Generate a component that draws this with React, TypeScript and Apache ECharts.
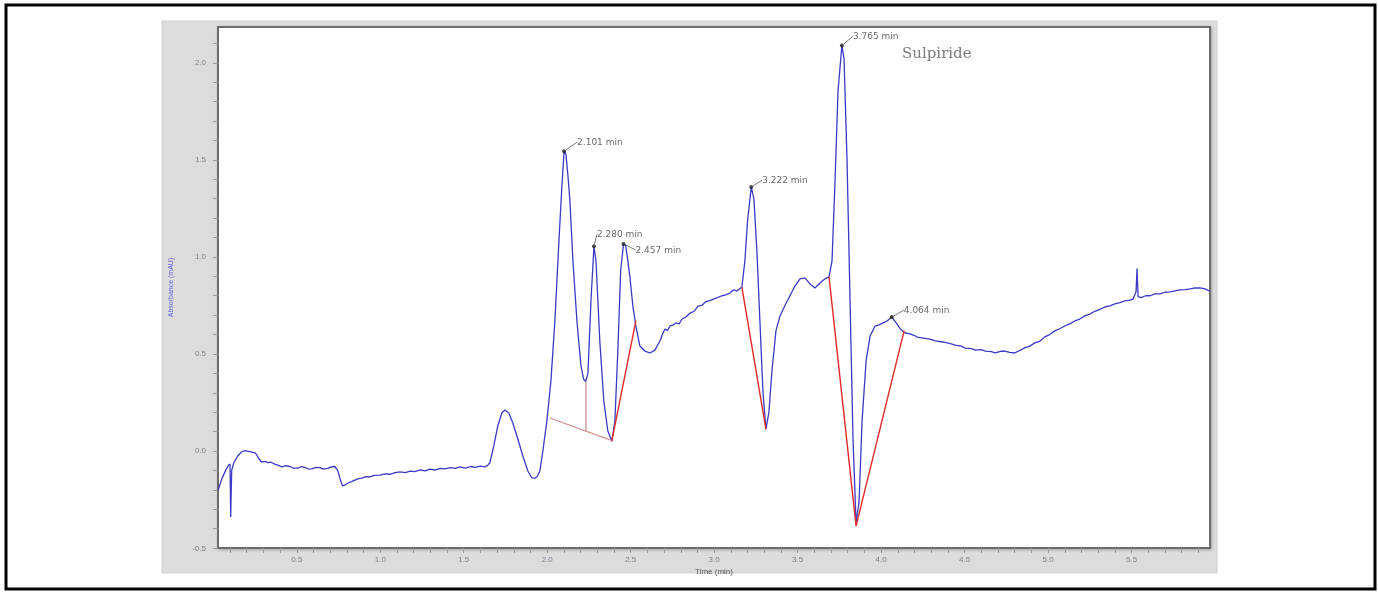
import React, { useEffect, useRef } from "react";
import * as echarts from "echarts";

// Chromatogram trace (time in min, absorbance in mAU)
const timeMin = [
  0.028, 0.05, 0.074, 0.092, 0.1, 0.104, 0.11, 0.122, 0.146, 0.17, 0.19, 0.21, 0.23, 0.25, 0.26, 0.273,
  0.29, 0.31, 0.326, 0.345, 0.368, 0.39, 0.41, 0.435, 0.458, 0.48, 0.506, 0.528, 0.548, 0.57, 0.59,
  0.615, 0.638, 0.66, 0.686, 0.705, 0.728, 0.745, 0.763, 0.775, 0.79, 0.806, 0.828, 0.848, 0.87, 0.89,
  0.915, 0.937, 0.965, 0.997, 1.03, 1.057, 1.09, 1.117, 1.15, 1.18, 1.207, 1.24, 1.27, 1.297, 1.33,
  1.36, 1.387, 1.42, 1.45, 1.477, 1.51, 1.54, 1.567, 1.6, 1.627, 1.645, 1.656, 1.68, 1.704, 1.728,
  1.746, 1.77, 1.794, 1.824, 1.854, 1.884, 1.908, 1.925, 1.938, 1.956, 1.974, 1.998, 2.022, 2.046,
  2.07, 2.088, 2.101, 2.112, 2.124, 2.136, 2.154, 2.178, 2.202, 2.218, 2.23, 2.244, 2.262, 2.28,
  2.292, 2.302, 2.315, 2.339, 2.363, 2.387, 2.405, 2.423, 2.44, 2.457, 2.47, 2.483, 2.495, 2.513,
  2.531, 2.555, 2.585, 2.615, 2.645, 2.675, 2.69, 2.705, 2.72, 2.735, 2.755, 2.771, 2.79, 2.807,
  2.83, 2.855, 2.88, 2.903, 2.925, 2.951, 2.975, 2.999, 3.02, 3.047, 3.07, 3.094, 3.115, 3.136,
  3.166, 3.184, 3.2, 3.222, 3.238, 3.256, 3.274, 3.292, 3.31, 3.328, 3.346, 3.37, 3.394, 3.424,
  3.454, 3.484, 3.514, 3.544, 3.574, 3.604, 3.634, 3.664, 3.688, 3.706, 3.724, 3.742, 3.765, 3.778,
  3.796, 3.814, 3.832, 3.85, 3.868, 3.886, 3.91, 3.934, 3.964, 3.988, 4.012, 4.036, 4.064, 4.09,
  4.114, 4.144, 4.174, 4.2, 4.222, 4.264, 4.3, 4.324, 4.36, 4.384, 4.42, 4.444, 4.48, 4.504, 4.54,
  4.564, 4.6, 4.624, 4.66, 4.684, 4.72, 4.74, 4.77, 4.8, 4.83, 4.86, 4.89, 4.92, 4.95, 4.98, 5.01,
  5.04, 5.07, 5.1, 5.13, 5.16, 5.19, 5.22, 5.25, 5.28, 5.31, 5.34, 5.37, 5.4, 5.43, 5.46, 5.49,
  5.509, 5.527, 5.533, 5.539, 5.557, 5.585, 5.611, 5.64, 5.671, 5.7, 5.731, 5.76, 5.791, 5.82,
  5.851, 5.88, 5.91, 5.94, 5.965,
];

const absorbance = [
  -0.205, -0.145, -0.1, -0.072, -0.068, -0.34, -0.1, -0.062, -0.026, -0.004, 0.002, -0.002, -0.006,
  -0.01, -0.02, -0.04, -0.058, -0.054, -0.06, -0.058, -0.068, -0.074, -0.082, -0.076, -0.08, -0.088,
  -0.088, -0.08, -0.085, -0.093, -0.092, -0.084, -0.086, -0.094, -0.09, -0.082, -0.08, -0.1, -0.155,
  -0.18, -0.175, -0.165, -0.158, -0.15, -0.142, -0.14, -0.132, -0.134, -0.126, -0.124, -0.118, -0.12,
  -0.112, -0.108, -0.112, -0.104, -0.106, -0.098, -0.102, -0.094, -0.098, -0.09, -0.092, -0.086,
  -0.09, -0.082, -0.088, -0.08, -0.084, -0.078, -0.082, -0.072, -0.062, 0.026, 0.129, 0.196, 0.211,
  0.196, 0.144, 0.062, -0.026, -0.103, -0.139, -0.14, -0.134, -0.103, 0.0, 0.155, 0.36, 0.67, 1.08,
  1.366, 1.545, 1.53, 1.42, 1.289, 0.979, 0.67, 0.438, 0.37, 0.358, 0.4, 0.773, 1.055, 0.98, 0.8,
  0.567, 0.258, 0.103, 0.05, 0.15, 0.515, 0.93, 1.067, 1.06, 0.98, 0.9, 0.747, 0.644, 0.541, 0.515,
  0.505, 0.52, 0.567, 0.6, 0.629, 0.62, 0.644, 0.65, 0.66, 0.655, 0.68, 0.69, 0.71, 0.72, 0.747, 0.75,
  0.77, 0.775, 0.784, 0.79, 0.8, 0.805, 0.814, 0.83, 0.825, 0.845, 0.98, 1.186, 1.36, 1.3, 1.03, 0.67,
  0.309, 0.113, 0.2, 0.412, 0.619, 0.696, 0.75, 0.8, 0.85, 0.887, 0.892, 0.861, 0.84, 0.866, 0.887,
  0.897, 0.98, 1.392, 1.856, 2.09, 2.02, 1.495, 0.773, 0.052, -0.37, -0.26, 0.155, 0.464, 0.593,
  0.644, 0.65, 0.66, 0.67, 0.69, 0.66, 0.63, 0.608, 0.603, 0.595, 0.585, 0.58, 0.575, 0.567, 0.563,
  0.56, 0.552, 0.546, 0.54, 0.53, 0.528, 0.52, 0.522, 0.515, 0.512, 0.505, 0.514, 0.515, 0.508,
  0.505, 0.518, 0.531, 0.54, 0.557, 0.565, 0.588, 0.6, 0.619, 0.63, 0.644, 0.655, 0.67, 0.68, 0.696,
  0.705, 0.72, 0.73, 0.742, 0.748, 0.758, 0.765, 0.773, 0.778, 0.783, 0.82, 0.94, 0.795, 0.79, 0.8,
  0.8, 0.81, 0.81, 0.818, 0.82, 0.825, 0.83, 0.832, 0.835, 0.84, 0.84, 0.835, 0.825,
];

// Integrated peaks
const peakTimes = [2.101, 2.28, 2.457, 3.222, 3.765, 4.064];
const peakHeights = [1.545, 1.055, 1.067, 1.36, 2.09, 0.69];

// Integration baselines (drop lines)
const baselineLight = [
  [2.016, 0.17],
  [2.393, 0.052],
];
const dropLine = [
  [2.232, 0.36],
  [2.232, 0.098],
];
const baselineRed = [
  [[2.387, 0.052], [2.531, 0.67]],
  [[3.166, 0.845], [3.31, 0.113]],
  [[3.688, 0.897], [3.85, -0.387]],
  [[3.85, -0.387], [4.138, 0.62]],
];

const xTickLabels = [0.5, 1.0, 1.5, 2.0, 2.5, 3.0, 3.5, 4.0, 4.5, 5.0, 5.5];
const yTickLabels = [-0.5, 0.0, 0.5, 1.0, 1.5, 2.0];
const xMinorTicks = Array.from({ length: 59 }, (_, i) => (i + 1) / 10);
const yMinorTicks = Array.from({ length: 27 }, (_, i) => (i - 5) / 10);

const peakLabelShift = [
  [9, -9],
  [-1, -12],
  [8, 6],
  [7, -7],
  [7, -9],
  [8, -7],
];

export default function App() {
  const ref = useRef<HTMLDivElement>(null);

  useEffect(() => {
    if (!ref.current) return;
    const chart = echarts.init(ref.current, undefined, { renderer: "svg" });

    const redSeries = baselineRed.map((seg, i) => ({
      type: "line",
      name: "baseline" + i,
      data: seg,
      showSymbol: false,
      silent: true,
      lineStyle: { color: "#e12a2a", width: 1.4 },
      z: 4,
    }));

    const option: any = {
      animation: false,
      backgroundColor: "transparent",
      grid: {
        left: 218,
        top: 27,
        right: 168,
        bottom: 44,
        show: true,
        backgroundColor: "#ffffff",
        borderColor: "#6c6c6c",
        borderWidth: 2,
        shadowColor: "rgba(0,0,0,0.25)",
        shadowBlur: 3,
        shadowOffsetX: 1,
        shadowOffsetY: 1,
      },
      xAxis: {
        type: "value",
        min: 0.028,
        max: 5.97,
        name: "Time (min)",
        nameLocation: "middle",
        nameGap: 18,
        nameTextStyle: { color: "#555", fontSize: 8, fontFamily: "Liberation Sans" },
        axisLine: { show: false, onZero: false },
        splitLine: { show: false },
        axisTick: {
          show: true,
          length: 5,
          customValues: xMinorTicks,
          lineStyle: { color: "#9a9a9a", width: 1 },
        },
        axisLabel: {
          customValues: xTickLabels,
          formatter: (v: number) => v.toFixed(1),
          color: "#7d7d8c",
          fontSize: 8,
          fontFamily: "Liberation Sans",
          margin: 7,
        },
      },
      yAxis: {
        type: "value",
        min: -0.5,
        max: 2.185,
        name: "Absorbance (mAU)",
        nameLocation: "middle",
        nameGap: 44,
        nameTextStyle: { color: "#5b5be0", fontSize: 7, fontFamily: "Liberation Sans" },
        axisLine: { show: false, onZero: false },
        splitLine: { show: false },
        axisTick: {
          show: true,
          length: 5,
          customValues: yMinorTicks,
          lineStyle: { color: "#9a9a9a", width: 1 },
        },
        axisLabel: {
          customValues: yTickLabels,
          formatter: (v: number) => v.toFixed(1),
          color: "#7d7d8c",
          fontSize: 8,
          fontFamily: "Liberation Sans",
          margin: 12,
        },
      },
      graphic: [
        {
          type: "rect",
          z: -100,
          silent: true,
          shape: { x: 162, y: 21, width: 1055, height: 552 },
          style: { fill: "#dcdcdc", stroke: "#d0d0d0", lineWidth: 1 },
        },
        {
          type: "rect",
          z: 100,
          silent: true,
          shape: { x: 6, y: 5, width: 1369, height: 584 },
          style: { fill: "none", stroke: "#000", lineWidth: 3 },
        },
        {
          type: "text",
          z: 100,
          left: 902,
          top: 45,
          style: {
            text: "Sulpiride",
            fill: "#7a7a7a",
            font: "15px 'DejaVu Serif'",
          },
        },
      ],
      series: [
        {
          type: "line",
          name: "trace",
          data: timeMin.map((t, i) => [t, absorbance[i]]),
          showSymbol: false,
          silent: true,
          lineStyle: { color: "#3a3ac6", width: 1.3 },
          z: 3,
        },
        {
          type: "line",
          name: "baselineLight",
          data: baselineLight,
          showSymbol: false,
          silent: true,
          lineStyle: { color: "#d89090", width: 1.3 },
          z: 4,
        },
        {
          type: "line",
          name: "drop",
          data: dropLine,
          showSymbol: false,
          silent: true,
          lineStyle: { color: "#c99090", width: 1.3 },
          z: 4,
        },
        ...redSeries,
        {
          type: "scatter",
          name: "peaks",
          data: peakTimes.map((t, i) => [t, peakHeights[i]]),
          symbol: "circle",
          symbolSize: 4,
          itemStyle: { color: "#222" },
          z: 6,
          label: {
            show: true,
            position: "right",
            distance: 2,
            formatter: (p: any) => peakTimes[p.dataIndex].toFixed(3) + " min",
            color: "#444",
            fontSize: 9,
            fontFamily: "DejaVu Sans",
          },
          labelLayout: (p: any) => ({
            dx: peakLabelShift[p.dataIndex][0],
            dy: peakLabelShift[p.dataIndex][1],
          }),
          labelLine: { show: true, lineStyle: { color: "#555", width: 0.8 } },
        },
      ],
    };

    chart.setOption(option);
    return () => chart.dispose();
  }, []);

  return (
    <div
      ref={ref}
      style={{ position: "fixed", left: 0, top: 0, width: 1378, height: 592 }}
    />
  );
}
